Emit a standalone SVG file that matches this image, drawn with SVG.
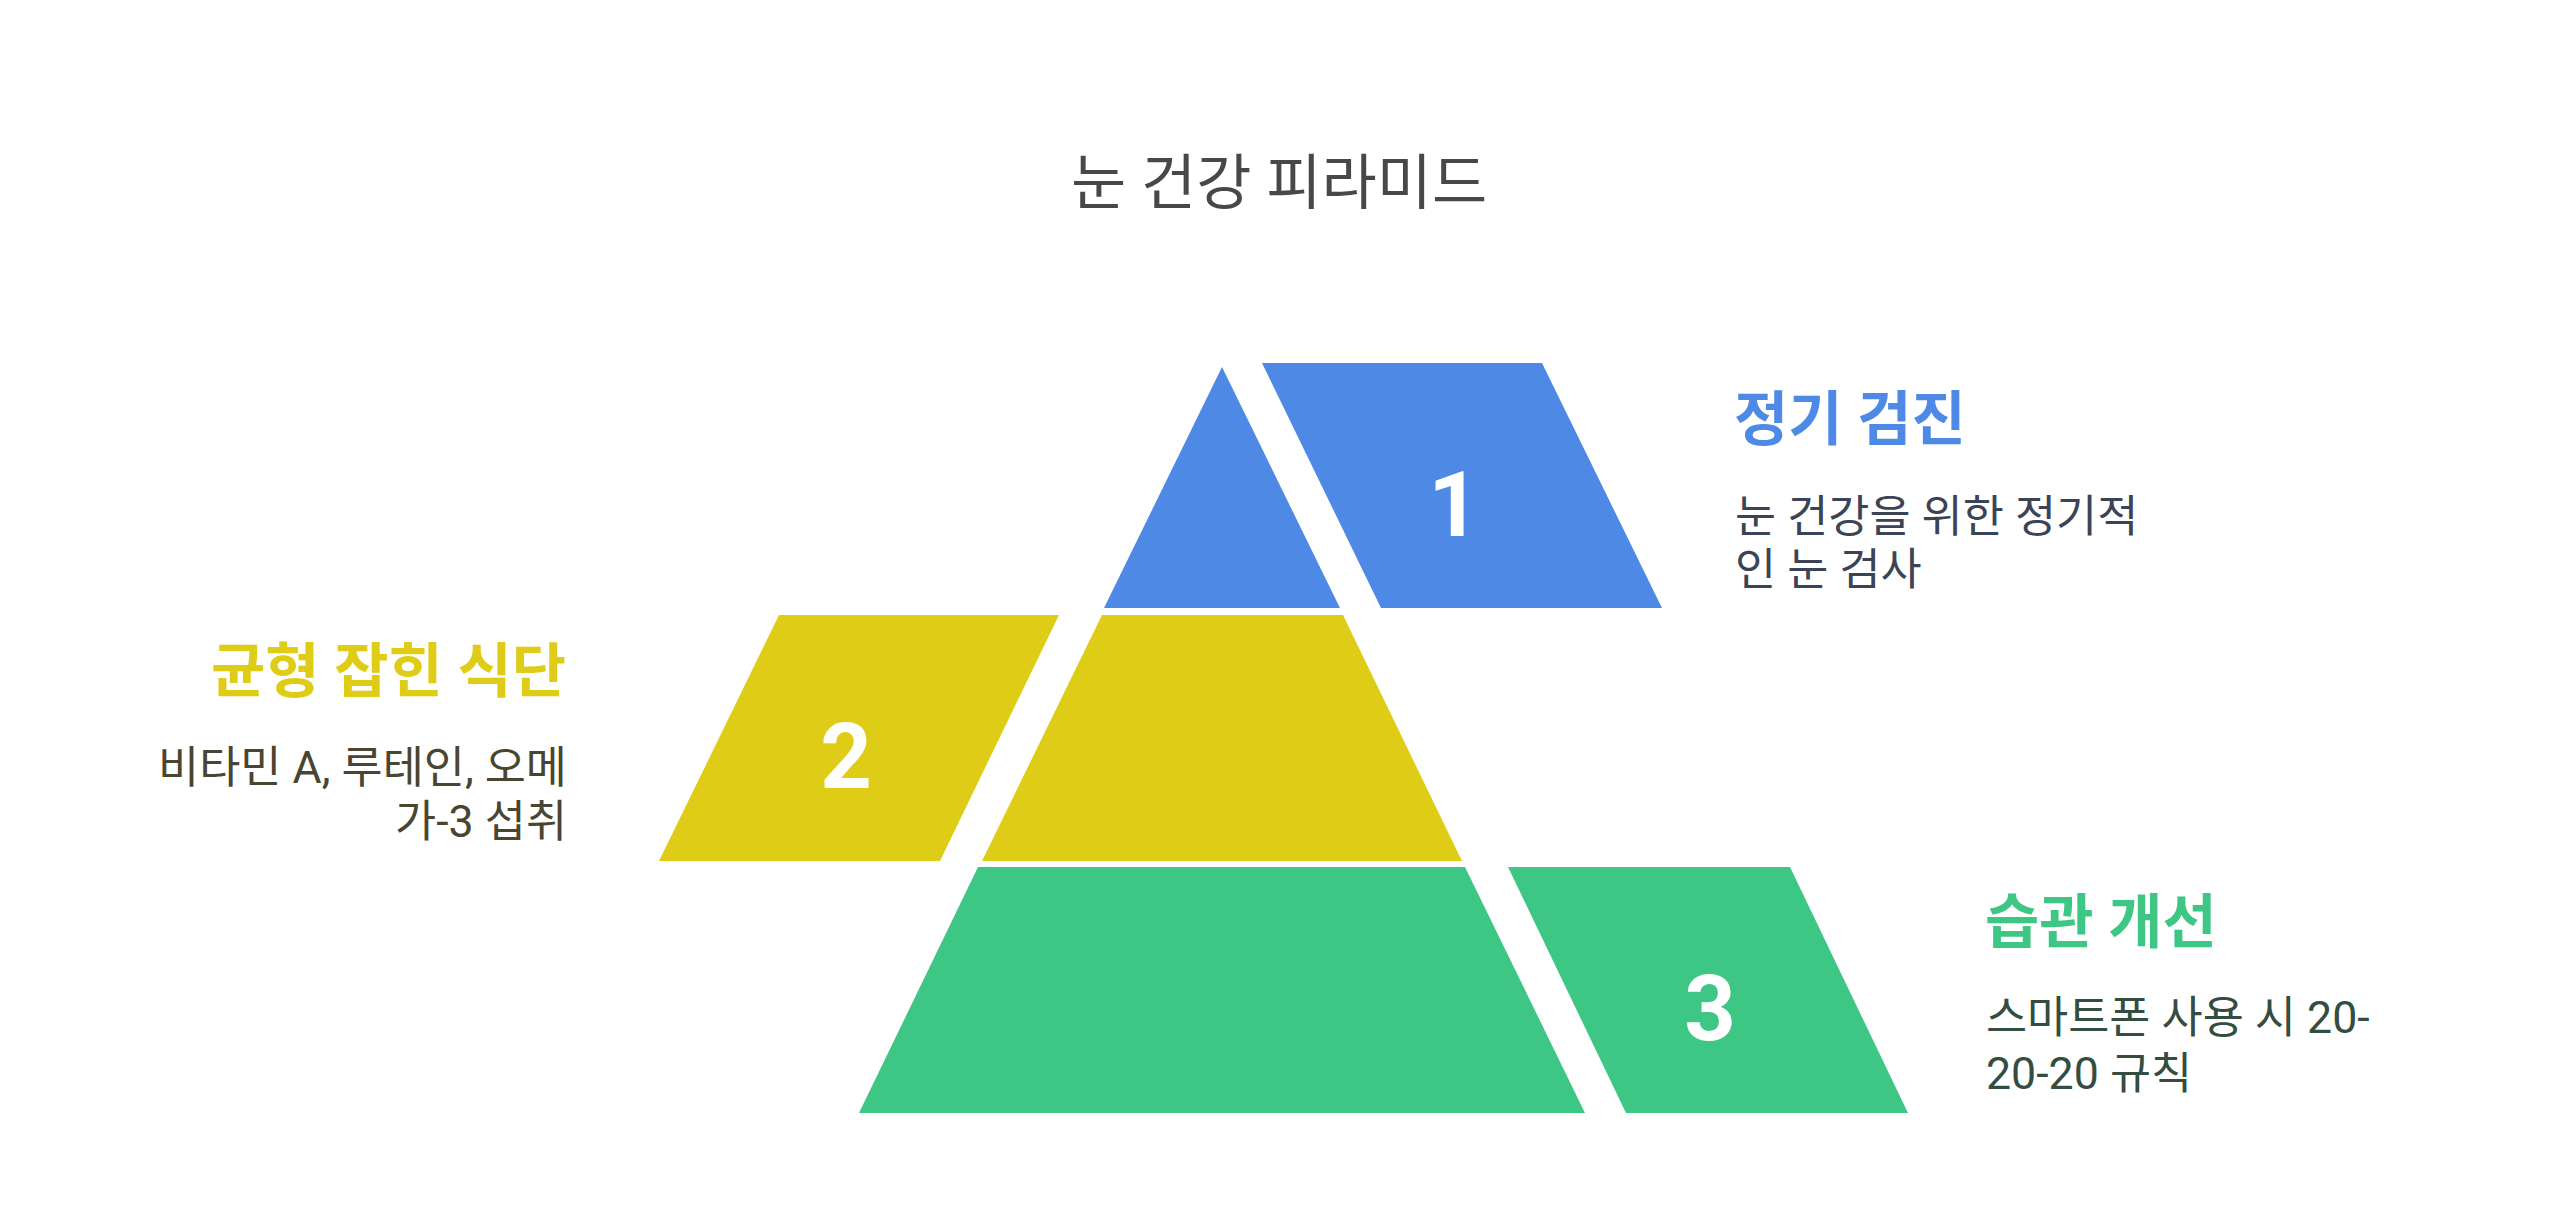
<svg xmlns="http://www.w3.org/2000/svg" width="2556" height="1219" viewBox="0 0 2556 1219">
<style>
text{font-family:Roboto,"Noto Sans CJK KR",sans-serif}
.title{font-size:60px;fill:#484848}
.head{font-size:59px;font-weight:700}
.body{font-size:44.7px}
.num{font-size:90px;font-weight:700;fill:#ffffff;text-anchor:middle}
.blue{fill:#4e89e5}
.yellow{fill:#dfcc16}
.green{fill:#3ec685}
</style>
<rect width="2556" height="1219" fill="#ffffff"/>
<text class="title" x="1071" y="204">눈 건강 피라미드</text>
<g id="tier1">
<polygon class="blue" points="1222,367 1340,608 1104,608"/>
<polygon class="blue" points="1262,363 1542,363 1662,608 1381,608"/>
<text class="num" x="1454" y="536">1</text>
<text class="head" x="1734" y="440" fill="#4e89e5">정기 검진</text>
<text class="body" fill="#3b4456"><tspan x="1735" y="532">눈 건강을 위한 정기적</tspan><tspan x="1735" y="585">인 눈 검사</tspan></text>
</g>
<g id="tier2">
<polygon class="yellow" points="1102,615 1343,615 1462,861 982,861"/>
<polygon class="yellow" points="779,615 1059,615 940,861 659,861"/>
<text class="num" x="846" y="788">2</text>
<text class="head" x="566" y="692" fill="#dfcc16" text-anchor="end">균형 잡힌 식단</text>
<text class="body" fill="#4a4530" text-anchor="end"><tspan x="567" y="783">비타민 A, 루테인, 오메</tspan><tspan x="567" y="837">가-3 섭취</tspan></text>
</g>
<g id="tier3">
<polygon class="green" points="978,867 1465,867 1585,1113 859,1113"/>
<polygon class="green" points="1508,867 1790,867 1908,1113 1626,1113"/>
<text class="num" x="1710" y="1040">3</text>
<text class="head" x="1985" y="943" fill="#3ec685">습관 개선</text>
<text class="body" fill="#334d41"><tspan x="1986" y="1033">스마트폰 사용 시 20-</tspan><tspan x="1986" y="1089">20-20 규칙</tspan></text>
</g>
<g id="connectors"></g>
</svg>
